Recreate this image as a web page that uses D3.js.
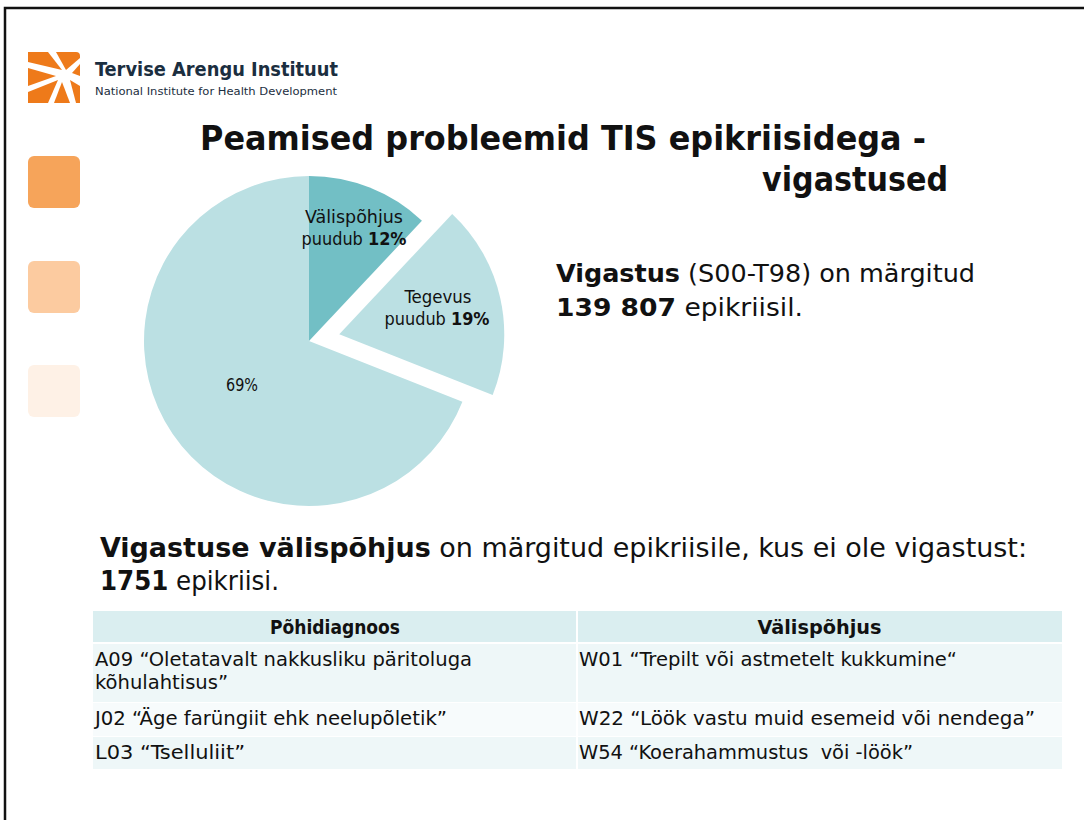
<!DOCTYPE html>
<html><head><meta charset="utf-8">
<script src="https://cdn.jsdelivr.net/npm/d3@7"></script>
<style>body{margin:0;background:#fff}svg{display:block}text{font-family:"DejaVu Sans Condensed","DejaVu Sans",sans-serif;white-space:pre}</style>
</head><body>
<svg id="c" width="1084" height="820"></svg>
<script>
const categories = ["Välispõhjus puudub", "Tegevus puudub", "Muu"];
const values = [12, 19, 69];
const tableHeader = ["Põhidiagnoos", "Välispõhjus"];
const diagnoses = [["A09 “Oletatavalt nakkusliku päritoluga", "kõhulahtisus”"], ["J02 “Äge farüngiit ehk neelupõletik”"], ["L03 “Tselluliit”"]];
const causes = [["W01 “Trepilt või astmetelt kukkumine“"], ["W22 “Löök vastu muid esemeid või nendega”"], ["W54 “Koerahammustus  või -löök”"]];

const svg = d3.select("#c");
// frame
svg.append("path").attr("d","M5,820 L5,8 L1084,8").attr("fill","none").attr("stroke","#111").attr("stroke-width",2.5);

// logo
const lg = svg.append("g").attr("fill","#EE7A1A");
lg.append("path").attr("d","M28,52 L48,52 L62,70 L28,62 Z");
lg.append("path").attr("d","M56,52 L76,52 Q80,52 80,56 L80,58 L66,70 Z");
lg.append("path").attr("d","M28,68 L56,76 L28,86 Z");
lg.append("path").attr("d","M80,64 L80,76 L72,73 Z");
lg.append("path").attr("d","M28,92 L58,80 L48,103 L28,103 Z");
lg.append("path").attr("d","M62,82 L70,103 L54,103 Z");
lg.append("path").attr("d","M70,80 L80,86 L80,103 L76,103 Z");
svg.append("text").attr("x",95).attr("y",76).attr("font-size",19).attr("fill","#1B2E40").attr("font-weight","600").attr("textLength",243).attr("lengthAdjust","spacingAndGlyphs").text("Tervise Arengu Instituut");
svg.append("text").attr("x",95).attr("y",95).attr("font-size",11).attr("fill","#1B2E40").attr("textLength",242).attr("lengthAdjust","spacingAndGlyphs").text("National Institute for Health Development");

// squares
const sqColors = ["#F6A45A","#FCCBA0","#FEF1E6"];
const sqY = [156, 261, 365];
svg.selectAll("rect.sq").data(sqColors).enter().append("rect").attr("class","sq")
  .attr("x",28).attr("y",(d,i)=>sqY[i]).attr("width",52).attr("height",52).attr("rx",6).attr("fill",d=>d);

// title
svg.append("text").attr("x",200).attr("y",150).attr("font-size",33).attr("font-weight","bold").attr("fill","#111")
  .attr("textLength",726).attr("lengthAdjust","spacingAndGlyphs").text("Peamised probleemid TIS epikriisidega -");
svg.append("text").attr("x",762).attr("y",191).attr("font-size",33).attr("font-weight","bold").attr("fill","#111")
  .attr("textLength",186).attr("lengthAdjust","spacingAndGlyphs").text("vigastused");

// pie
const cx = 309, cy = 341, r = 165;
const pie = d3.pie().sort(null).value(d=>d)(values);
const arc = d3.arc().innerRadius(0).outerRadius(r);
const colors = ["#72BFC5","#BBE0E3","#BBE0E3"];
const explode = [0, 31, 0];
const pg = svg.append("g").attr("transform",`translate(${cx},${cy})`);
pg.selectAll("path").data(pie).enter().append("path")
  .attr("d",arc).attr("fill",(d,i)=>colors[i])
  .attr("transform",(d,i)=>{const a=(d.startAngle+d.endAngle)/2;return `translate(${Math.sin(a)*explode[i]},${-Math.cos(a)*explode[i]})`;});

function lbl(x,y,parts,size,len){
  const t=svg.append("text").attr("x",x).attr("y",y).attr("font-size",size).attr("text-anchor","middle").attr("fill","#111");
  parts.forEach(p=>t.append("tspan").attr("font-weight",p[1]?"bold":"normal").text(p[0]));
  if(len) t.attr("textLength",len).attr("lengthAdjust","spacingAndGlyphs");
  return t;
}
lbl(354,223,[["Välispõhjus",false]],18,98);
lbl(354,245,[["puudub ",false],[values[0]+"%",true]],18,105);
lbl(438,303,[["Tegevus",false]],18,67);
lbl(437,325,[["puudub ",false],[values[1]+"%",true]],18,105);
lbl(242,391,[[values[2]+"%",false]],18,32);

// right text
function line(x,y,parts,size,len){
  const t=svg.append("text").attr("x",x).attr("y",y).attr("font-size",size).attr("fill","#111");
  parts.forEach(p=>t.append("tspan").attr("font-weight",p[1]?"bold":"normal").text(p[0]));
  if(len) t.attr("textLength",len).attr("lengthAdjust","spacingAndGlyphs");
  return t;
}
line(556,282,[["Vigastus",true],[" (S00-T98) on märgitud",false]],25,419);
line(556,316,[["139 807",true],[" epikriisil.",false]],25,247);
line(100,557,[["Vigastuse välispõhjus",true],[" on märgitud epikriisile, kus ei ole vigastust:",false]],27,927);
line(100,590,[["1751",true],[" epikriisi.",false]],27,179);

// table
const colX = [93, 577, 1062];
const rowY = [611, 643, 702, 736, 769];
const rowFill = ["#DAEEF0","#EEF7F8","#F7FBFC","#EEF7F8"];
for(let i=0;i<4;i++){
  for(let j=0;j<2;j++){
    svg.append("rect").attr("x",colX[j]+(j?1:0)).attr("y",rowY[i]+(i?1:0)).attr("width",colX[j+1]-colX[j]-1).attr("height",rowY[i+1]-rowY[i]-1).attr("fill",rowFill[i]);
  }
}
const headLen = [130, 124];
tableHeader.forEach((h,j)=>{
  svg.append("text").attr("x",(colX[j]+colX[j+1])/2).attr("y",634).attr("text-anchor","middle").attr("font-size",19).attr("font-weight","bold").attr("fill","#111")
    .attr("textLength",headLen[j]).attr("lengthAdjust","spacingAndGlyphs").text(h);
});
const diagLen = [[377,133],[352],[150]];
const causeLen = [[378],[456],[334]];
function cell(x,y,lines,lens){
  lines.forEach((l,k)=>svg.append("text").attr("x",x).attr("y",y+k*23).attr("font-size",20).attr("fill","#111")
    .attr("textLength",lens[k]).attr("lengthAdjust","spacingAndGlyphs").text(l));
}
diagnoses.forEach((d,i)=>cell(95,rowY[i+1]+23,d,diagLen[i]));
causes.forEach((d,i)=>cell(579,rowY[i+1]+23,d,causeLen[i]));
</script>
</body></html>
